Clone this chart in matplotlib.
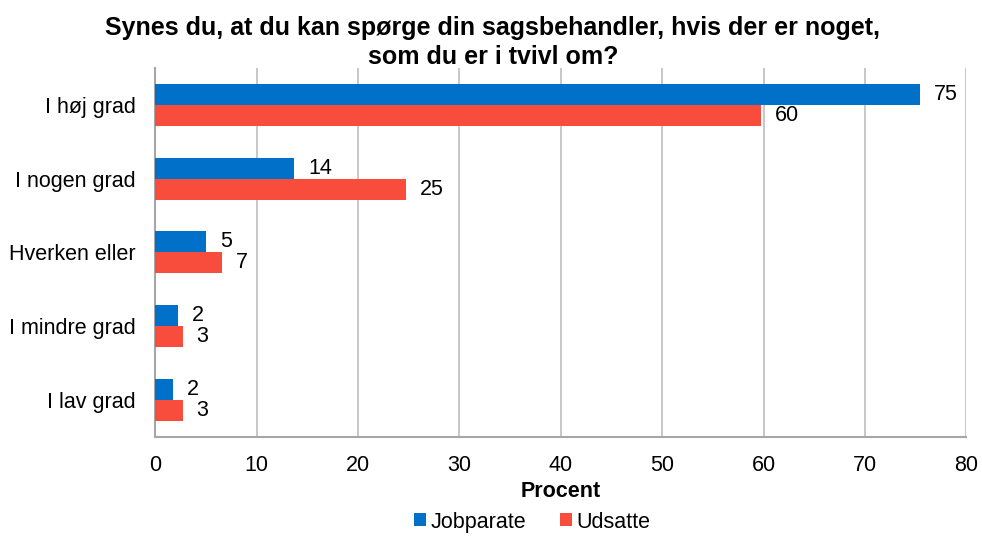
import matplotlib.pyplot as plt
import numpy as np

plt.rcParams["font.family"] = ["Liberation Sans", "DejaVu Sans"]

categories = ["I høj grad", "I nogen grad", "Hverken eller", "I mindre grad", "I lav grad"]
jobparate = [75.4, 13.7, 5.0, 2.3, 1.8]
udsatte = [59.8, 24.7, 6.6, 2.7, 2.7]
xticks = [0, 10, 20, 30, 40, 50, 60, 70, 80]

blue = "#0070C9"
red = "#F84C3C"
grid_col = "#BDBDBD"

fig = plt.figure(figsize=(9.82, 5.36), dpi=100)
ax = fig.add_axes([0.158, 0.185, 0.826, 0.688])

y = np.arange(len(categories))
h = 0.285
b1 = ax.barh(y - h / 2, jobparate, height=h, color=blue, label="Jobparate", zorder=3)
b2 = ax.barh(y + h / 2, udsatte, height=h, color=red, label="Udsatte", zorder=3)

for bars, vals in [(b1, jobparate), (b2, udsatte)]:
    for bar, v in zip(bars, vals):
        ax.annotate(f"{v:.0f}", (bar.get_width(), bar.get_y() + bar.get_height() / 2),
                    xytext=(10, 0), textcoords="offset points",
                    ha="left", va="center", fontsize=15.5)

ax.set_ylim(len(categories) - 0.5, -0.5)
ax.set_xlim(0, 80)
ax.set_xticks(xticks)
ax.set_yticks(y)
ax.set_yticklabels(categories, fontsize=15.5)
ax.tick_params(axis="x", labelsize=15.5, length=0, pad=13)
ax.tick_params(axis="y", length=0, pad=14)
ax.grid(axis="x", color=grid_col, linewidth=1.2, zorder=0)

for side in ["top", "right"]:
    ax.spines[side].set_visible(False)
for side in ["left", "bottom"]:
    ax.spines[side].set_color("#A6A6A6")
    ax.spines[side].set_linewidth(1.5)

ax.set_xlabel("Procent", fontsize=15.5, fontweight="bold", labelpad=4)
fig.suptitle("Synes du, at du kan spørge din sagsbehandler, hvis der er noget,\nsom du er i tvivl om?",
             fontsize=18, fontweight="bold", y=0.97, x=0.502, linespacing=1.25)

fig.legend(handles=[b1, b2], loc="center", bbox_to_anchor=(0.542, 0.026), ncol=2,
           frameon=False, fontsize=15.5, handlelength=0.55, handleheight=0.55,
           handletextpad=0.2, columnspacing=1.6, borderpad=0.1)

fig.savefig("out.png", dpi=100)
